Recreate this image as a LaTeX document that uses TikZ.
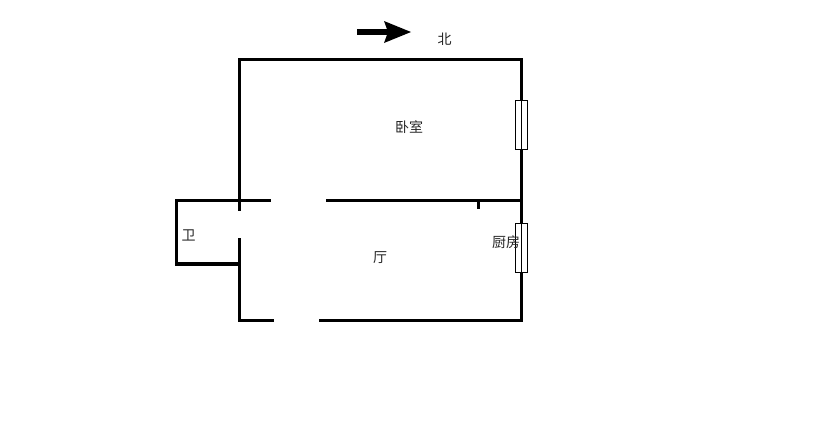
\documentclass[tikz,border=0pt]{standalone}
\usepackage{fontspec}
\newfontfamily\cjk{Noto Sans CJK SC}
\begin{document}
\begin{tikzpicture}[x=1bp,y=-1bp,
  wall/.style={line width=3.2bp,line cap=rect,line join=miter},
  thinline/.style={line width=0.9bp,draw=black},
  windowbox/.style={thinline,fill=white,rectangle,minimum width=11.5bp,minimum height=49bp,inner sep=0pt},
  label/.style={font=\cjk\fontsize{14bp}{14bp}\selectfont,inner sep=0pt,text=black!85}]
\useasboundingbox[fill=white] (0,0) rectangle (814,422);
% walls
\draw[wall] (239.5,209) -- (239.5,59.5) -- (521.5,59.5) -- (521.5,320.5) -- (321,320.5);
\draw[wall] (272,320.5) -- (239.5,320.5) -- (239.5,239.5);
\draw[wall] (269,200.5) -- (176.5,200.5) -- (176.5,264) -- (239.5,264);
\draw[wall] (521.5,200.5) -- (328,200.5);
\draw[wall,line cap=butt] (478.5,200.5) -- (478.5,209);
% windows
\node[windowbox] (winA) at (521.5,124.5) {};
\node[windowbox] (winB) at (521.5,248) {};
\draw[thinline] (winA.north) -- (winA.south);
\draw[thinline] (winB.north) -- (winB.south);
% north arrow
\coordinate (arrowTail) at (357,32);
\coordinate (arrowNeck) at (388,32);
\coordinate (arrowTip) at (411,32);
\draw[line width=5.5bp] (arrowTail) -- (arrowNeck);
\fill (arrowTip) -- (384,21) -- (388,32) -- (384,43) -- cycle;
% labels
\node[label] (north) at (444.5,39) {北};
\node[label] (bedroom) at (409,127) {卧室};
\node[label] (kitchen) at (506,242.5) {厨房};
\node[label] (hall) at (380,257.5) {厅};
\node[label] (bath) at (188.5,235) {卫};
\end{tikzpicture}
\end{document}
